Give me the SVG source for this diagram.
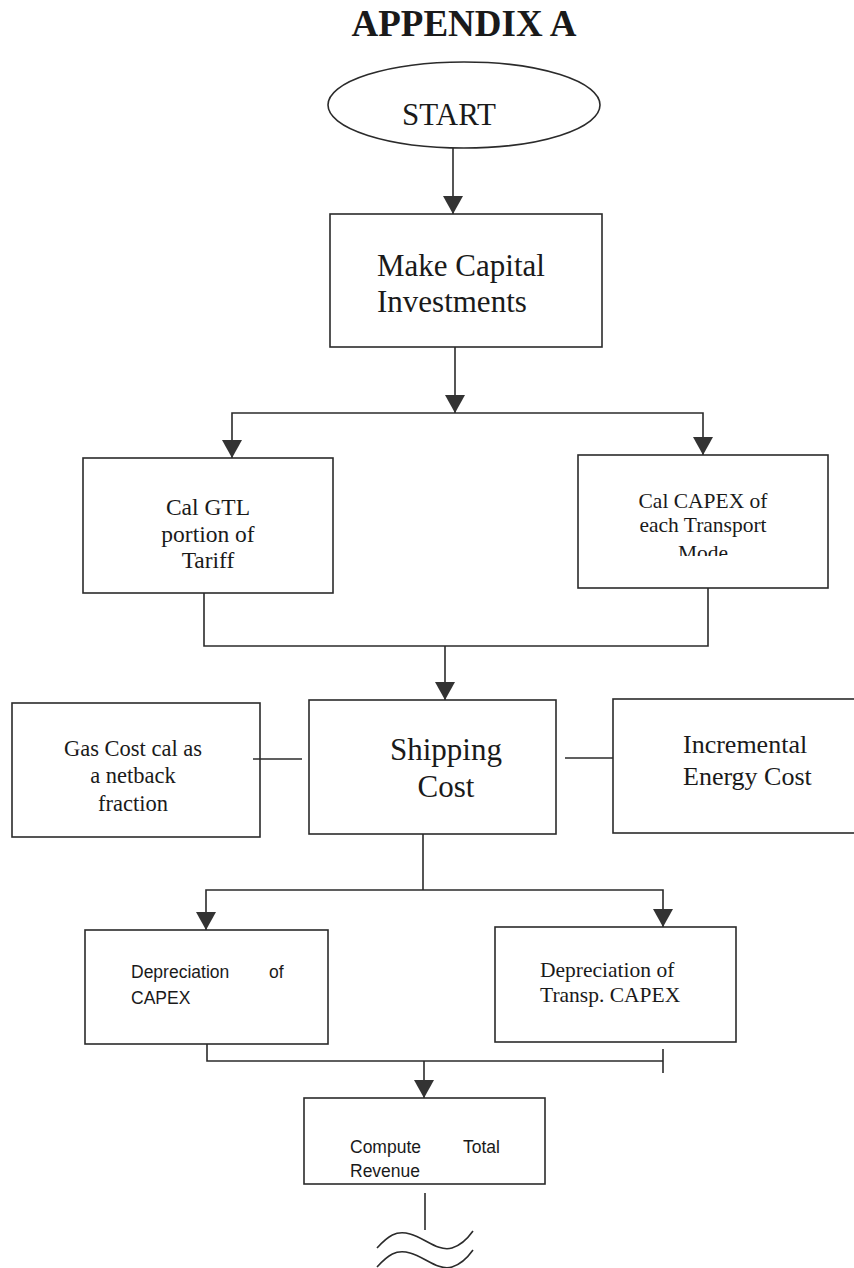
<svg xmlns="http://www.w3.org/2000/svg" width="854" height="1268" viewBox="0 0 854 1268">
<style>
.box{fill:none;stroke:#2b2b2b;stroke-width:1.6}
.ln{fill:none;stroke:#2b2b2b;stroke-width:1.6}
.t{font-family:"Liberation Serif","Times New Roman",serif;fill:#1a1a1a}
.a{font-family:"Liberation Sans",Arial,sans-serif;fill:#1a1a1a}
</style>
<defs>
<marker id="arr" viewBox="0 0 18 20" refX="18" refY="10" markerWidth="18" markerHeight="20" markerUnits="userSpaceOnUse" orient="auto">
<path d="M0,0 L18,10 L0,20 Z" fill="#333"/>
</marker>
<clipPath id="clipMode"><rect x="578" y="455" width="250" height="101"/></clipPath>
</defs>
<rect width="854" height="1268" fill="#fff"/>
<text class="t" x="464" y="36" font-size="37" font-weight="bold" text-anchor="middle">APPENDIX A</text>

<g id="connectors">
<path class="ln" d="M453,148 L453,214" marker-end="url(#arr)"/>
<path class="ln" d="M455,347 L455,413" marker-end="url(#arr)"/>
<path class="ln" d="M455,413 L232,413 L232,458" marker-end="url(#arr)"/>
<path class="ln" d="M455,413 L703,413 L703,455" marker-end="url(#arr)"/>
<path class="ln" d="M204,593 L204,646 L708,646 L708,588"/>
<path class="ln" d="M445,646 L445,700" marker-end="url(#arr)"/>
<path class="ln" d="M253,759 L302,759"/>
<path class="ln" d="M565,758 L613,758"/>
<path class="ln" d="M423,834 L423,890"/>
<path class="ln" d="M423,890 L206,890 L206,930" marker-end="url(#arr)"/>
<path class="ln" d="M423,890 L663,890 L663,927" marker-end="url(#arr)"/>
<path class="ln" d="M207,1044 L207,1061 L663,1061"/>
<path class="ln" d="M663,1049 L663,1073"/>
<path class="ln" d="M424,1061 L424,1098" marker-end="url(#arr)"/>
<path class="ln" d="M425,1193 L425,1230"/>
<path class="ln" d="M377,1248 C388,1236 396,1230 410,1234 C425,1238 438,1252 452,1248 C462,1245 468,1238 473,1231"/>
<path class="ln" d="M377,1267 C388,1255 396,1249 410,1253 C425,1257 438,1271 452,1267 C462,1264 468,1257 473,1250"/>
</g>

<g id="start">
<ellipse class="box" cx="464" cy="105" rx="136" ry="43"/>
<text class="t" x="449" y="125" font-size="31" text-anchor="middle">START</text>
</g>

<g id="make-capital">
<rect class="box" x="330" y="214" width="272" height="133"/>
<text class="t" x="377" y="276" font-size="31">Make Capital</text>
<text class="t" x="377" y="312" font-size="31">Investments</text>
</g>

<g id="cal-gtl">
<rect class="box" x="83" y="458" width="250" height="135"/>
<text class="t" x="208" y="515" font-size="23.5" text-anchor="middle">Cal GTL</text>
<text class="t" x="208" y="542" font-size="23.5" text-anchor="middle">portion of</text>
<text class="t" x="208" y="568" font-size="23.5" text-anchor="middle">Tariff</text>
</g>

<g id="cal-capex">
<rect class="box" x="578" y="455" width="250" height="133"/>
<text class="t" x="703" y="508" font-size="21.5" text-anchor="middle">Cal CAPEX of</text>
<text class="t" x="703" y="532" font-size="21.5" text-anchor="middle">each Transport</text>
<text class="t" x="703" y="560" font-size="21.5" text-anchor="middle" clip-path="url(#clipMode)">Mode</text>
</g>

<g id="gas-cost">
<rect class="box" x="12" y="703" width="248" height="134"/>
<text class="t" x="133" y="756" font-size="22.5" text-anchor="middle">Gas Cost cal as</text>
<text class="t" x="133" y="783" font-size="22.5" text-anchor="middle">a netback</text>
<text class="t" x="133" y="811" font-size="22.5" text-anchor="middle">fraction</text>
</g>

<g id="shipping-cost">
<rect class="box" x="309" y="700" width="247" height="134"/>
<text class="t" x="446" y="760" font-size="31" text-anchor="middle">Shipping</text>
<text class="t" x="446" y="797" font-size="31" text-anchor="middle">Cost</text>
</g>

<g id="incremental">
<rect class="box" x="613" y="699" width="260" height="134"/>
<text class="t" x="683" y="753" font-size="26">Incremental</text>
<text class="t" x="683" y="785" font-size="26">Energy Cost</text>
</g>

<g id="dep-capex">
<rect class="box" x="85" y="930" width="243" height="114"/>
<text class="a" x="131" y="978" font-size="17.5">Depreciation</text>
<text class="a" x="269" y="978" font-size="17.5">of</text>
<text class="a" x="131" y="1004" font-size="17.5">CAPEX</text>
</g>

<g id="dep-transp">
<rect class="box" x="495" y="927" width="241" height="115"/>
<text class="t" x="540" y="977" font-size="21.5">Depreciation of</text>
<text class="t" x="540" y="1002" font-size="21.5">Transp. CAPEX</text>
</g>

<g id="total-revenue">
<rect class="box" x="304" y="1098" width="241" height="86"/>
<text class="a" x="350" y="1153" font-size="17.5">Compute</text>
<text class="a" x="463" y="1153" font-size="17.5">Total</text>
<text class="a" x="350" y="1177" font-size="17.5">Revenue</text>
</g>
</svg>
